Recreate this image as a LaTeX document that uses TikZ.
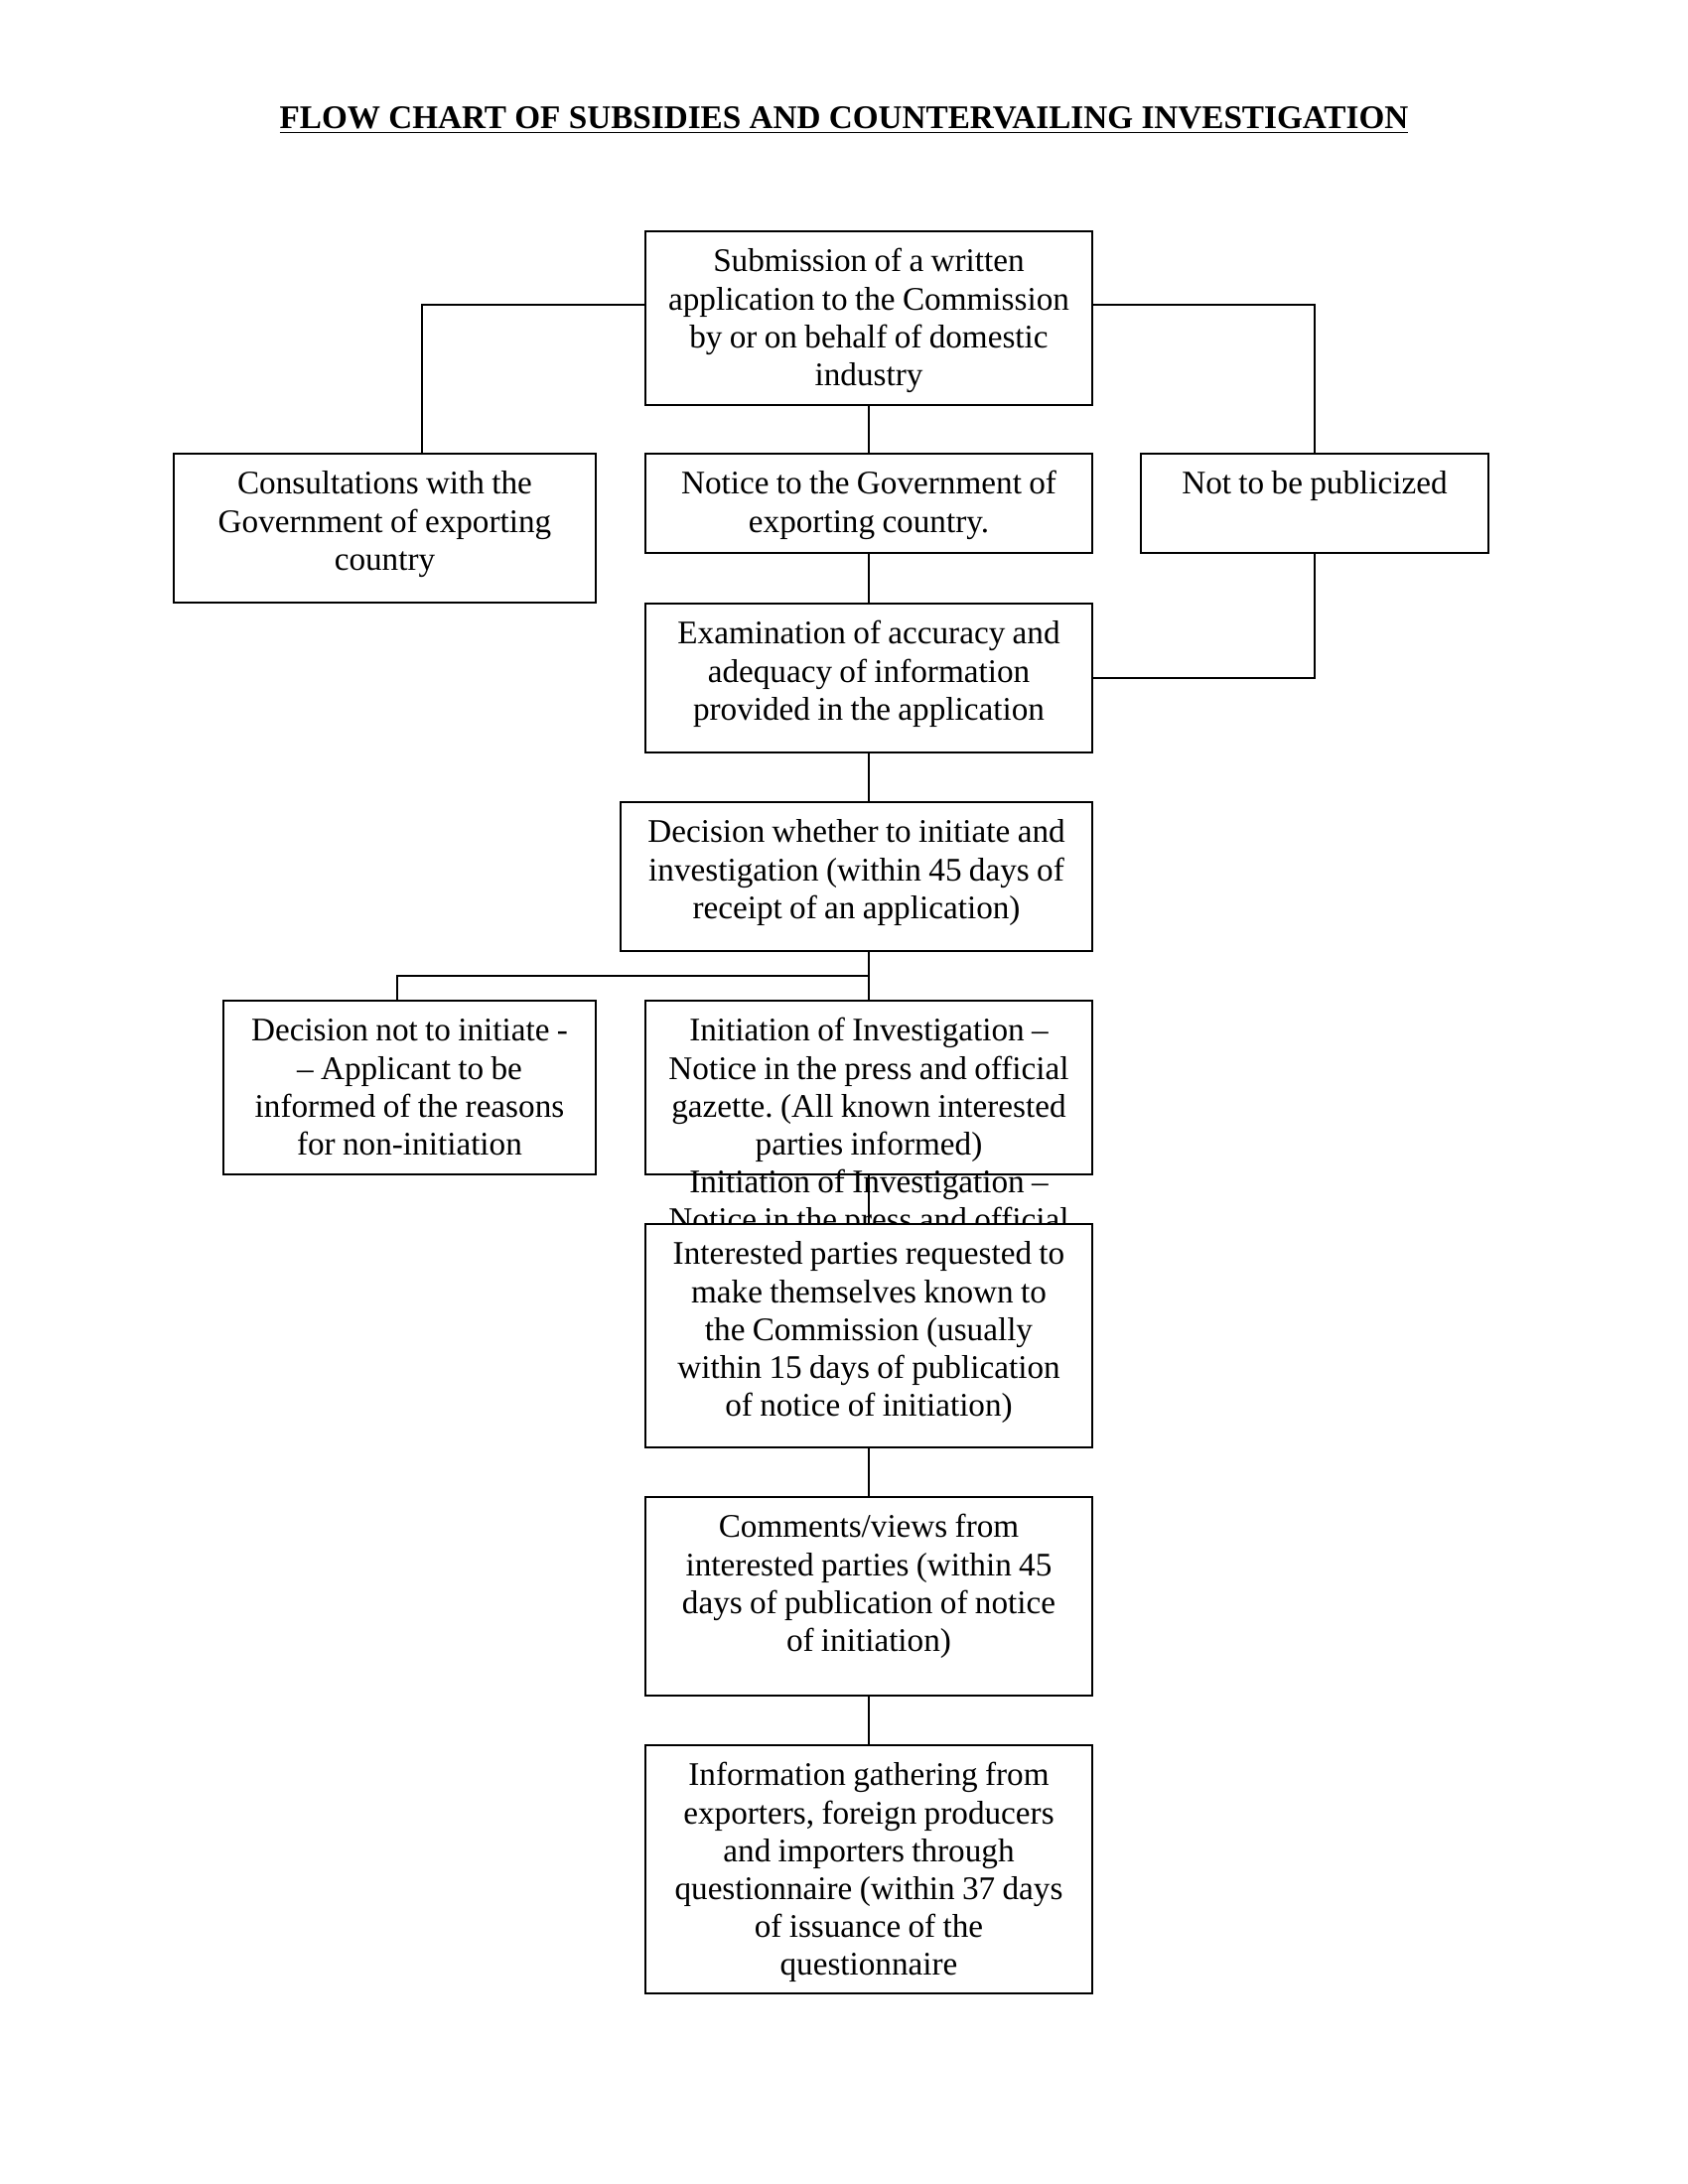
\documentclass[tikz,border=0pt]{standalone}
\usepackage{fontspec}
\setmainfont{Liberation Serif}
\usetikzlibrary{calc}
\tikzset{
  box/.style 2 args={draw, line width=0.8pt, fill=white, inner sep=0pt, outer sep=0pt,
     minimum width=#1*0.127mm, minimum height=#2*0.127mm},
  txt/.style={inner sep=0pt, anchor=base, align=center, text width=60mm,
     font=\fontsize{12}{13.8}\selectfont,
     execute at begin node={\frenchspacing\spaceskip=2.65pt\relax}},
  link/.style={line width=0.6pt}
}
\begin{document}
\begin{tikzpicture}[x=0.127mm, y=-0.127mm]
\fill[white] (0,0) rectangle (1700,2200);
\useasboundingbox (0,0) rectangle (1700,2200);

\node[inner sep=0pt, anchor=base, font=\fontsize{12}{13.8}\selectfont\bfseries] (title) at (850,129)
  {\underline{FLOW CHART OF SUBSIDIES AND COUNTERVAILING INVESTIGATION}};

% boxes
\node[box={450}{175}] (sub) at (875,320.5) {};
\node[box={425}{150}] (cons) at (387.5,532) {};
\node[box={450}{100}] (notice) at (875,507) {};
\node[box={350}{100}] (notpub) at (1324,507) {};
\node[box={450}{150}] (exam) at (875,683) {};
\node[box={475}{150}] (dec) at (862.5,883) {};
\node[box={375}{175}] (decnot) at (412.5,1095.5) {};
\node[box={450}{175}] (init) at (875,1095.5) {};

% overflowing text of the initiation box
\node[txt] (over) at ([yshift=-24.6mm]init.north)
  {Initiation of Investigation –\\Notice in the press and official};

\draw[link] (init.south) -- (init.south |- 0,1233);
\node[box={450}{225}] (inter) at (875,1345.5) {};
\node[box={450}{200}] (comm) at (875,1608) {};
\node[box={450}{250}] (info) at (875,1883) {};

% texts
\node[txt] (tsub) at ([yshift=-5.2mm]sub.north)
  {Submission of a written\\application to the Commission\\by or on behalf of domestic\\industry};
\node[txt] (tcons) at ([yshift=-5.2mm]cons.north)
  {Consultations with the\\Government of exporting\\country};
\node[txt] (tnotice) at ([yshift=-5.2mm]notice.north)
  {Notice to the Government of\\exporting country.};
\node[txt] (tnotpub) at ([yshift=-5.2mm]notpub.north)
  {Not to be publicized};
\node[txt] (texam) at ([yshift=-5.2mm]exam.north)
  {Examination of accuracy and\\adequacy of information\\provided in the application};
\node[txt] (tdec) at ([yshift=-5.2mm]dec.north)
  {Decision whether to initiate and\\investigation (within 45 days of\\receipt of an application)};
\node[txt] (tdecnot) at ([yshift=-5.2mm]decnot.north)
  {Decision not to initiate -\\– Applicant to be\\informed of the reasons\\for non-initiation};
\node[txt] (tinit) at ([yshift=-5.2mm]init.north)
  {Initiation of Investigation –\\Notice in the press and official\\gazette. (All known interested\\parties informed)};
\node[txt] (tinter) at ([yshift=-5.2mm]inter.north)
  {Interested parties requested to\\make themselves known to\\the Commission (usually\\within 15 days of publication\\of notice of initiation)};
\node[txt] (tcomm) at ([yshift=-5.2mm]comm.north)
  {Comments/views from\\interested parties (within 45\\days of publication of notice\\of initiation)};
\node[txt] (tinfo) at ([yshift=-5.2mm]info.north)
  {Information gathering from\\exporters, foreign producers\\and importers through\\questionnaire (within 37 days\\of issuance of the\\questionnaire};

% connectors
\coordinate (jl) at (425,307);
\coordinate (jr) at (1324,307);
\coordinate (jd) at (875,983);
\coordinate (jn) at (400,983);
\draw[link] (sub.west |- jl) -- (jl) -- (jl |- cons.north);
\draw[link] (sub.east |- jr) -- (jr) -- (notpub.north);
\draw[link] (sub.south) -- (notice.north);
\draw[link] (notice.south) -- (exam.north);
\draw[link] (notpub.south) |- (exam.east);
\draw[link] (exam.south) -- (exam.south |- dec.north);
\draw[link] (jd |- dec.south) -- (jd) -- (init.north);
\draw[link] (jd) -- (jn) -- (jn |- decnot.north);
\draw[link] (inter.south) -- (comm.north);
\draw[link] (comm.south) -- (info.north);
\end{tikzpicture}
\end{document}
